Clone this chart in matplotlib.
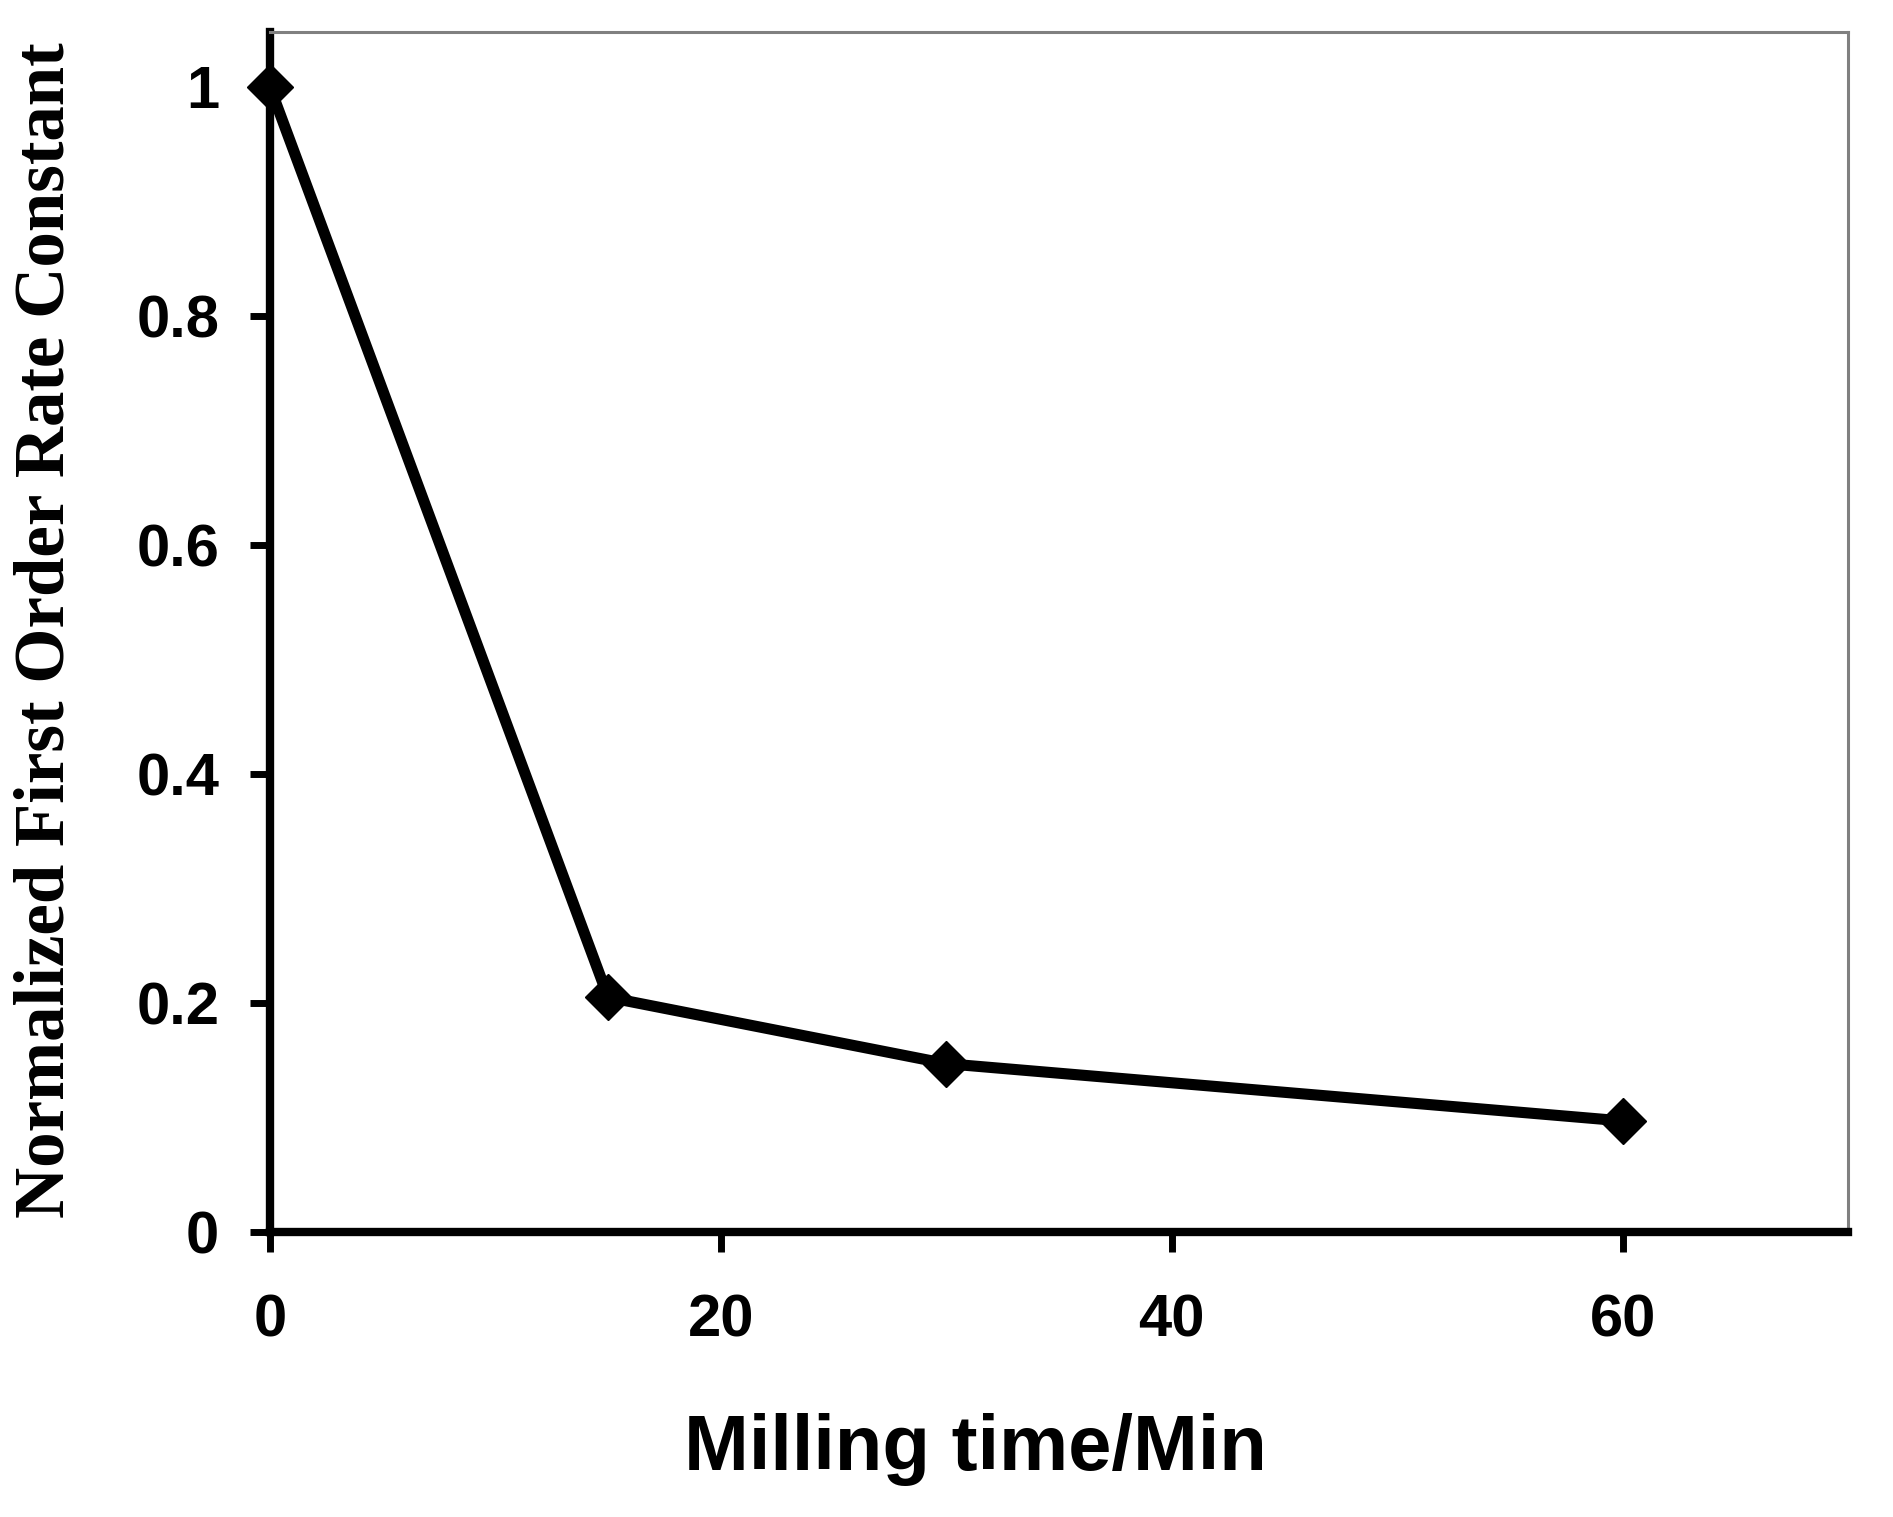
import matplotlib
matplotlib.use('Agg')
import matplotlib.pyplot as plt

# values
milling_time = [0, 15, 30, 60]
rate_constant = [1.0, 0.205, 0.147, 0.097]

x_ticks = [0, 20, 40, 60]
y_ticks = [0, 0.2, 0.4, 0.6, 0.8, 1.0]
y_tick_labels = ['0', '0.2', '0.4', '0.6', '0.8', '1']

W, H, DPI = 1893, 1517, 100
fig = plt.figure(figsize=(W / DPI, H / DPI), dpi=DPI)
ax = fig.add_axes([270 / W, 1 - 1232 / H, (1848 - 270) / W, (1232 - 32) / H])

ax.plot(milling_time, rate_constant, color='black', lw=8, marker='D',
        ms=23, mfc='black', mec='black', mew=1, clip_on=False, zorder=3)

ax.set_xlim(0, 70)
ax.set_ylim(0, 1.048)
ax.set_xticks(x_ticks)
ax.set_yticks(y_ticks)
ax.set_yticklabels(y_tick_labels)

for side in ('left', 'bottom'):
    ax.spines[side].set_linewidth(6)
    ax.spines[side].set_color('black')
for side in ('top', 'right'):
    ax.spines[side].set_linewidth(2.2)
    ax.spines[side].set_color('#808080')

tick_font = {'family': 'Liberation Sans', 'weight': 'bold', 'size': 43}
ax.tick_params(axis='both', direction='out', length=14.5, width=5, color='black')
ax.tick_params(axis='y', pad=22)
ax.tick_params(axis='x', pad=30)
for lab in ax.get_xticklabels() + ax.get_yticklabels():
    lab.set_fontfamily(tick_font['family'])
    lab.set_fontweight(tick_font['weight'])
    lab.set_fontsize(tick_font['size'])

fig.text(975 / W, 1 - 1450 / H, 'Milling time/Min', family='Liberation Sans',
         weight='bold', size=56, ha='center', va='center')
fig.text(46 / W, 1 - 630 / H, 'Normalized First Order Rate Constant',
         family='Liberation Serif', weight='bold', size=51, rotation=90,
         ha='center', va='center')

fig.savefig('out.png', dpi=DPI)
